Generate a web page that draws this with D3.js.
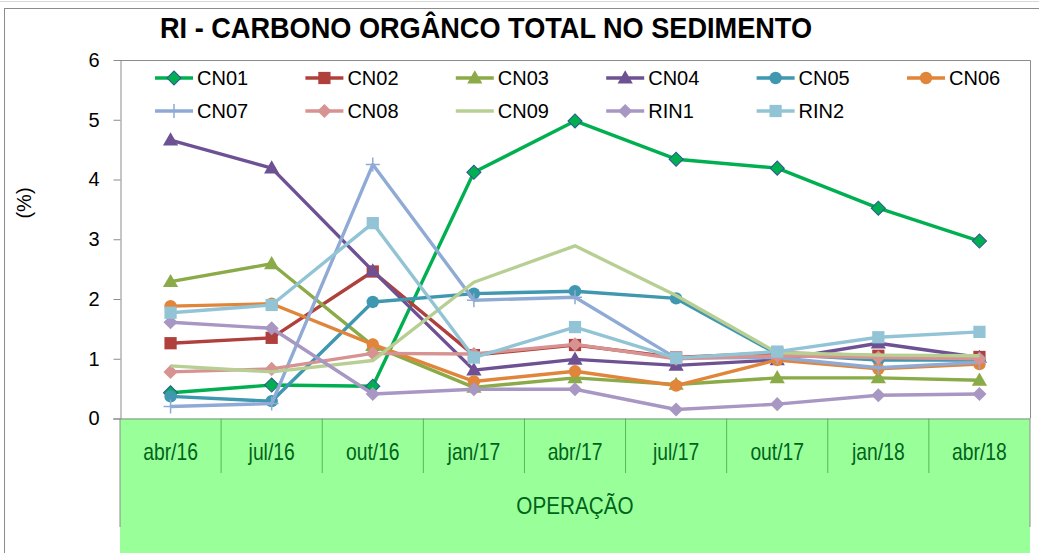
<!DOCTYPE html>
<html>
<head>
<meta charset="utf-8">
<script src="https://cdn.jsdelivr.net/npm/d3@7"></script>
<style>
  body { margin: 0; background: #fff; }
</style>
</head>
<body>
<div id="chart"></div>
<script>
// categories (x axis)
var categories = ["abr/16", "jul/16", "out/16", "jan/17", "abr/17", "jul/17", "out/17", "jan/18", "abr/18"];

// series values (%)
var CN01 = [0.43, 0.56, 0.54, 4.12, 4.98, 4.34, 4.19, 3.52, 2.97];
var CN02 = [1.26, 1.35, 2.46, 1.06, 1.23, 1.02, 1.10, 1.05, 1.03];
var CN03 = [2.29, 2.59, 1.22, 0.52, 0.68, 0.57, 0.68, 0.68, 0.64];
var CN04 = [4.66, 4.19, 2.47, 0.81, 0.99, 0.89, 0.98, 1.26, 1.02];
var CN05 = [0.37, 0.29, 1.95, 2.09, 2.13, 2.01, 1.08, 0.98, 0.98];
var CN06 = [1.88, 1.92, 1.24, 0.62, 0.79, 0.55, 0.98, 0.83, 0.91];
var CN07 = [0.20, 0.25, 4.25, 1.98, 2.03, 1.01, 1.02, 0.85, 0.94];
var CN08 = [0.78, 0.83, 1.09, 1.08, 1.24, 1.00, 1.05, 1.02, 1.00];
var CN09 = [0.88, 0.78, 0.97, 2.28, 2.89, 2.06, 1.10, 1.06, 1.05];
var RIN1 = [1.61, 1.51, 0.41, 0.49, 0.49, 0.15, 0.24, 0.39, 0.41];
var RIN2 = [1.77, 1.90, 3.27, 1.02, 1.53, 1.01, 1.12, 1.36, 1.45];

var yTicks = [0, 1, 2, 3, 4, 5, 6];

var series = [
  { name: "CN01", values: CN01, color: "#00b050", marker: "diamond", edge: "#2f5597" },
  { name: "CN02", values: CN02, color: "#b0403c", marker: "square" },
  { name: "CN03", values: CN03, color: "#8aab47", marker: "triangle" },
  { name: "CN04", values: CN04, color: "#6d5193", marker: "triangle" },
  { name: "CN05", values: CN05, color: "#3f97b0", marker: "circle" },
  { name: "CN06", values: CN06, color: "#e0853a", marker: "circle" },
  { name: "CN07", values: CN07, color: "#8faad4", marker: "plus" },
  { name: "CN08", values: CN08, color: "#d79391", marker: "diamond" },
  { name: "CN09", values: CN09, color: "#b8cf94", marker: "none" },
  { name: "RIN1", values: RIN1, color: "#a897c3", marker: "diamond" },
  { name: "RIN2", values: RIN2, color: "#92c4d6", marker: "square" }
];

var w = 1039, h = 553;
var plotLeft = 120, plotRight = 1030, plotTop = 60, plotBottom = 418.5;
var sans = "'Liberation Sans', Arial, sans-serif";

var svg = d3.select("#chart").append("svg")
  .attr("width", w)
  .attr("height", h);

//outer chart frame
svg.append("line").attr("x1", 0).attr("x2", w).attr("y1", 1.5).attr("y2", 1.5)
  .attr("stroke", "#d9d9d9");
svg.append("rect").attr("x", 4.5).attr("y", 8.5).attr("width", w).attr("height", h)
  .attr("fill", "none").attr("stroke", "#8c8c8c");

var x = d3.scaleBand().domain(categories).range([plotLeft, plotRight]);
var y = d3.scaleLinear().domain([0, 6]).range([plotBottom, plotTop]);
var cx = function(i) { return x(categories[i]) + x.bandwidth() / 2; };

//green category band
svg.append("rect")
  .attr("x", plotLeft).attr("y", plotBottom)
  .attr("width", plotRight - plotLeft).attr("height", h - plotBottom)
  .attr("fill", "#99ff99");

svg.selectAll(".sep")
  .data(categories.slice(1))
  .enter()
  .append("line")
  .attr("x1", function(d) { return x(d); })
  .attr("x2", function(d) { return x(d); })
  .attr("y1", plotBottom).attr("y2", 473)
  .attr("stroke", "#55b955").attr("stroke-width", 1);

svg.append("line").attr("x1", plotLeft).attr("x2", plotLeft).attr("y1", plotBottom).attr("y2", 527)
  .attr("stroke", "#8c8c8c");
svg.append("line").attr("x1", plotRight).attr("x2", plotRight).attr("y1", plotBottom).attr("y2", 527)
  .attr("stroke", "#8c8c8c");

//narrow-looking labels: regular font squeezed horizontally
svg.selectAll(".cat")
  .data(categories)
  .enter()
  .append("text")
  .text(function(d) { return d; })
  .attr("transform", function(d) {
    return "translate(" + (x(d) + x.bandwidth() / 2) + ",460) scale(0.84,1)";
  })
  .attr("text-anchor", "middle")
  .attr("font-family", sans)
  .attr("font-size", "23px")
  .attr("fill", "#00631b");

svg.append("text")
  .text("OPERAÇÃO")
  .attr("transform", "translate(" + ((plotLeft + plotRight) / 2) + ",514) scale(0.9,1)")
  .attr("text-anchor", "middle")
  .attr("font-family", sans)
  .attr("font-size", "23px")
  .attr("fill", "#00631b");

//plot area border (top and right)
svg.append("path")
  .attr("d", "M" + plotLeft + "," + (plotTop + 0.5) + "H" + (plotRight + 0.5) + "V" + plotBottom)
  .attr("fill", "none").attr("stroke", "#8c8c8c");

//y axis
var yAxis = svg.append("g")
  .attr("transform", "translate(" + (plotLeft + 0.5) + ",0)")
  .call(d3.axisLeft(y).tickValues(yTicks).tickFormat(d3.format("d"))
    .tickSize(7).tickPadding(14).tickSizeOuter(0));
yAxis.select(".domain").attr("stroke", "#8c8c8c");
yAxis.selectAll(".tick line").attr("stroke", "#8c8c8c");
yAxis.selectAll(".tick text")
  .attr("font-family", sans)
  .attr("font-size", "20px")
  .attr("fill", "#000");

//bottom axis line
svg.append("line").attr("x1", plotLeft - 7).attr("x2", plotRight).attr("y1", plotBottom + 0.5).attr("y2", plotBottom + 0.5)
  .attr("stroke", "#8c8c8c");

svg.append("text")
  .text("(%)")
  .attr("transform", "translate(31,203) rotate(-90)")
  .attr("text-anchor", "middle")
  .attr("font-family", sans)
  .attr("font-size", "20px")
  .attr("fill", "#000");

//title
svg.append("text")
  .text("RI - CARBONO ORGÂNCO TOTAL NO SEDIMENTO")
  .attr("x", 160)
  .attr("y", 38)
  .attr("font-family", sans)
  .attr("font-weight", "bold")
  .attr("font-size", "30px")
  .attr("textLength", 652)
  .attr("lengthAdjust", "spacingAndGlyphs")
  .attr("fill", "#000");

//marker helper
function drawMarker(g, s, px, py) {
  var m;
  if (s.marker === "diamond") {
    m = g.append("path").attr("d", d3.symbol(d3.symbolSquare, 100)())
      .attr("transform", "translate(" + px + "," + py + ") rotate(45)");
  } else if (s.marker === "square") {
    m = g.append("path").attr("d", d3.symbol(d3.symbolSquare, 150)())
      .attr("transform", "translate(" + px + "," + py + ")");
  } else if (s.marker === "triangle") {
    m = g.append("path").attr("d", d3.symbol(d3.symbolTriangle, 100)())
      .attr("transform", "translate(" + px + "," + (py + 1) + ")");
  } else if (s.marker === "circle") {
    m = g.append("circle").attr("cx", px).attr("cy", py).attr("r", 6.2);
  } else if (s.marker === "plus") {
    g.append("path").attr("d", "M-7,0H7M0,-7V7")
      .attr("transform", "translate(" + px + "," + py + ")")
      .attr("stroke", s.color).attr("stroke-width", 1.5).attr("fill", "none");
    return;
  } else {
    return;
  }
  m.attr("fill", s.color);
  if (s.edge) m.attr("stroke", s.edge).attr("stroke-width", 1);
}

var line = d3.line()
  .x(function(d, i) { return cx(i); })
  .y(function(d) { return y(d); });

series.forEach(function(s) {
  var g = svg.append("g");
  g.append("path")
    .attr("d", line(s.values))
    .attr("fill", "none")
    .attr("stroke", s.color)
    .attr("stroke-width", 3.4)
    .attr("stroke-linejoin", "round");
  s.values.forEach(function(v, i) {
    drawMarker(g, s, cx(i), y(v));
  });
});

//legend
var legend = svg.append("g");
series.forEach(function(s, i) {
  var col = i < 6 ? i : i - 6;
  var row = i < 6 ? 0 : 1;
  var lx = 155 + col * 150.4;
  var ly = 78 + row * 33;
  var g = legend.append("g");
  g.append("line")
    .attr("x1", lx).attr("x2", lx + 38)
    .attr("y1", ly).attr("y2", ly)
    .attr("stroke", s.color).attr("stroke-width", 3.4);
  drawMarker(g, s, lx + 19, ly);
  g.append("text")
    .text(s.name)
    .attr("x", lx + 42)
    .attr("y", ly + 7)
    .attr("font-family", sans)
    .attr("font-size", "20px")
    .attr("fill", "#000");
});
</script>
</body>
</html>
